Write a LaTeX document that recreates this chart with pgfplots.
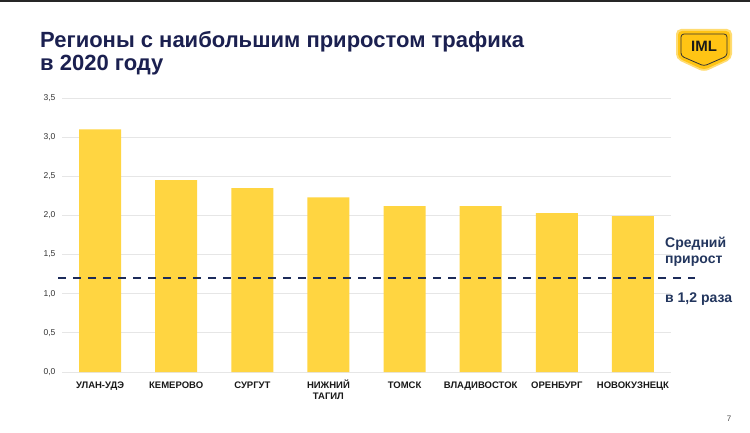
\documentclass[border=0pt]{standalone}
\usepackage{pgfplots}
\pgfplotsset{compat=1.18}
\usepackage{fontspec}
\setmainfont{Liberation Sans}
\definecolor{barY}{HTML}{FFD541}
\definecolor{navy}{HTML}{1B2050}
\definecolor{dashc}{HTML}{1C2B5A}
\definecolor{annot}{HTML}{23365E}
\definecolor{gridc}{HTML}{E6E6E6}
\definecolor{logoY}{HTML}{FFC414}
\newcommand\tl{\rule{0pt}{9pt}}
\begin{document}
\begin{tikzpicture}
\useasboundingbox (0pt,0pt) rectangle (750pt,-433pt);
\fill[white] (0pt,0pt) rectangle (750pt,-433pt);
\fill[black!85] (0pt,0pt) rectangle (750pt,-2pt);
\begin{axis}[
  at={(62pt,-372pt)}, anchor=south west,
  scale only axis, width=609pt, height=274pt,
  xmin=-0.5, xmax=7.5, ymin=0, ymax=3.5,
  clip=false,
  axis line style={draw=none},
  major tick length=0pt,
  ymajorgrids, grid style={gridc, line width=0.8pt},
  ytick={0,0.5,1,1.5,2,2.5,3,3.5},
  xtick={0,1,2,3,4,5,6,7},
  xticklabels={{\tl УЛАН-УДЭ}, {\tl КЕМЕРОВО}, {\tl СУРГУТ}, {\tl НИЖНИЙ\\ТАГИЛ}, {\tl ТОМСК}, {\tl ВЛАДИВОСТОК}, {\tl ОРЕНБУРГ}, {\tl НОВОКУЗНЕЦК}},
  xticklabel style={font=\bfseries\fontsize{9.5}{11}\selectfont, align=center, text=black!90, anchor=north, inner sep=0pt, yshift=-7pt},
  yticklabel style={font=\fontsize{8.5}{10}\selectfont, text=black!80, xshift=-3pt},
  /pgf/number format/.cd, assume math mode=true, use comma, fixed, fixed zerofill, precision=1,
]
\addplot[ybar, bar width=42pt, fill=barY, draw=none] coordinates {
  (0,3.10) (1,2.45) (2,2.35) (3,2.23) (4,2.12) (5,2.12) (6,2.03) (7,1.99)
};
\addplot[dashc, line width=2.6pt, dash pattern=on 8pt off 7pt] coordinates {(-0.55,1.2) (7.82,1.2)};
\end{axis}
\node[anchor=base west, inner sep=0pt, font=\bfseries\fontsize{22}{26}\selectfont, text=navy] at (40pt,-48pt) {Регионы с наибольшим приростом трафика};
\node[anchor=base west, inner sep=0pt, font=\bfseries\fontsize{22}{26}\selectfont, text=navy] at (40pt,-71pt) {в 2020 году};
\node[anchor=base west, inner sep=0pt, font=\bfseries\fontsize{14}{16}\selectfont, text=annot] at (665pt,-247pt) {Средний};
\node[anchor=base west, inner sep=0pt, font=\bfseries\fontsize{14}{16}\selectfont, text=annot] at (665pt,-263pt) {прирост};
\node[anchor=base west, inner sep=0pt, font=\bfseries\fontsize{14}{16}\selectfont, text=annot] at (665pt,-302pt) {в 1,2 раза};
\node[anchor=base, inner sep=0pt, font=\fontsize{8}{9}\selectfont, text=black!70] at (729pt,-421pt) {7};
% logo
\fill[logoY!60, rounded corners=5pt] (676pt,-29pt) -- (732pt,-29pt) -- (732pt,-59pt) -- (704pt,-72pt) -- (676pt,-59pt) -- cycle;
\fill[logoY, rounded corners=4pt] (678pt,-31pt) -- (730pt,-31pt) -- (730pt,-58pt) -- (704pt,-70pt) -- (678pt,-58pt) -- cycle;
\draw[black!80, line width=0.8pt, rounded corners=3pt] (681pt,-34pt) -- (727pt,-34pt) -- (727pt,-56pt) -- (704pt,-66pt) -- (681pt,-56pt) -- cycle;
\node[font=\bfseries\fontsize{15}{16}\selectfont, text=black!90, inner sep=0pt] at (704pt,-46pt) {IML};
\end{tikzpicture}
\end{document}
